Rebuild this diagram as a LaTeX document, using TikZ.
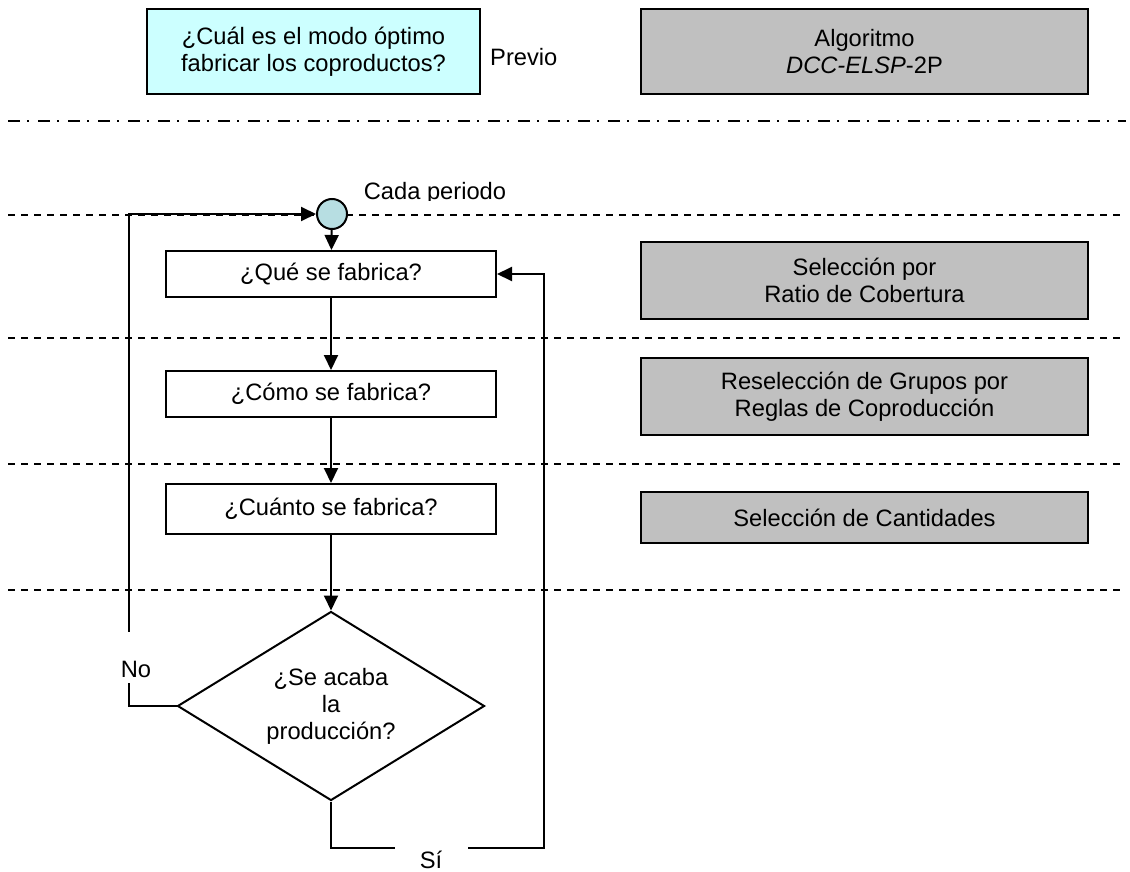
\documentclass[tikz,border=0pt]{standalone}
\usepackage{fontspec}
\setmainfont{Liberation Sans}
\usetikzlibrary{arrows.meta,shapes.geometric}
\definecolor{cyanbox}{RGB}{204,255,255}
\definecolor{graybox}{RGB}{192,192,192}
\definecolor{circfill}{RGB}{183,222,226}
\begin{document}
\begin{tikzpicture}[x=1pt,y=-1pt,
  every node/.style={font=\fontsize{23.7}{27}\selectfont, align=center},
  proc/.style={draw, line width=2pt, fill=white, inner sep=0pt, minimum width=330pt, minimum height=46pt},
  algo/.style={draw, line width=2.4pt, fill=graybox, inner sep=0pt, minimum width=447pt},
  conn/.style={line width=2pt},
  arr/.style={conn, -{Triangle[length=15pt,width=14pt]}},
  sepline/.style={line width=1.5pt, dash pattern=on 7pt off 6pt},
  sepdd/.style={line width=1.8pt, dash pattern=on 12pt off 7pt on 2pt off 9pt},
  lbl/.style={fill=white, inner sep=0pt, anchor=base}
]
\useasboundingbox (0,0) rectangle (1130,872);
% separators
\draw[sepdd] (8,121) -- (1126,121);
\foreach \yy in {215,338,464,590} \draw[sepline] (8,\yy) -- (1126,\yy);
% top row
\node[draw, line width=2pt, fill=cyanbox, minimum width=333pt, minimum height=85pt, inner sep=0pt] (q0) at (313.5,51.5) {¿Cuál es el modo óptimo\\fabricar los coproductos?};
\node[anchor=base west, inner sep=0pt] (previo) at (490,66) {Previo};
\node[algo, minimum height=85pt] (alg) at (864.5,51.5) {Algoritmo\\\textit{DCC-ELSP}-2P};
% cada periodo
\begin{scope}
\clip (360,160) rectangle (520,200);
\node[anchor=base, inner sep=0pt] (cada) at (435,199) {Cada periodo};
\end{scope}
% flow
\node[circle, draw, line width=2pt, fill=circfill, minimum size=30pt, inner sep=0pt] (start) at (332,214) {};
\node[proc] (que) at (331,274) {¿Qué se fabrica?};
\node[proc] (como) at (331,394) {¿Cómo se fabrica?};
\node[proc, minimum height=50pt] (cuanto) at (331,509) {¿Cuánto se fabrica?};
\node[diamond, draw, line width=2pt, aspect=1.62, minimum width=307pt, minimum height=189pt, inner sep=0pt] (fin) at (331,706) {¿Se acaba\\la\\producción?};
% right column
\node[algo, minimum height=77pt] (g1) at (864.5,280.5) {Selección por\\Ratio de Cobertura};
\node[algo, minimum height=77pt] (g2) at (864.5,396.5) {Reselección de Grupos por\\Reglas de Coproducción};
\node[algo, minimum height=51pt] (g3) at (864.5,517.5) {Selección de Cantidades};
% connectors
\draw[arr] (start) -- (que);
\draw[arr] (que) -- (como);
\draw[arr] (como) -- (cuanto);
\draw[arr] (cuanto) -- (fin);
\coordinate (nocorner) at (129,706);
\coordinate (notop) at (129,214);
\draw[arr] (fin.west) -- (nocorner) -- (notop) -- (start.west);
\coordinate (sileft) at (331,848);
\coordinate (siright) at (544,848);
\coordinate (sitop) at (544,274);
\draw[arr] (fin.south) -- (sileft) -- (siright) -- (sitop) -- (que.east);
% labels
\node[lbl, minimum width=30pt, text height=45pt, text depth=6pt] (no) at (136,677) {No};
\node[lbl, minimum width=73pt, text height=23pt, text depth=6pt] (si) at (431,868) {Sí};
\end{tikzpicture}
\end{document}
